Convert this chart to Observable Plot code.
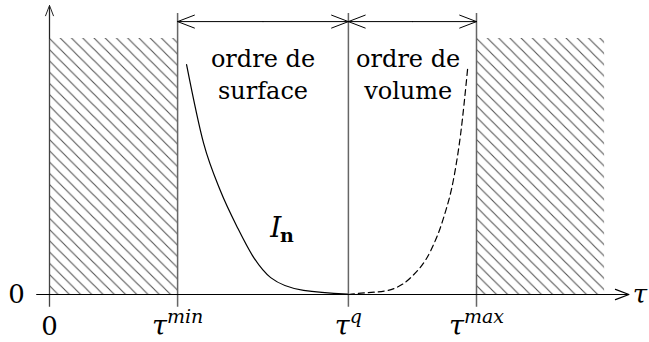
<!DOCTYPE html>
<html>
<head>
<meta charset="utf-8">
<script src="https://cdn.jsdelivr.net/npm/d3@7"></script>
<script src="https://cdn.jsdelivr.net/npm/@observablehq/plot@0.6"></script>
<style>
  html, body { margin: 0; padding: 0; background: white; }
  svg { display: block; }
</style>
</head>
<body>
<div id="chart"></div>
<script>
// ---- data ----
const tickValues = [0, 3, 7, 10];
const tickLabels = ["0", "τ^min", "τ^q", "τ^max"];
const hatchStart = [0, 10];
const hatchEnd = [3, 13];
const regionLabels = ["ordre de\nsurface", "ordre de\nvolume"];
const regionCenters = [5, 8.4];
const surfaceX = [3.21, 3.61, 4.0, 4.4, 4.78, 5.18, 5.95, 6.98];
const surfaceY = [0.898, 0.59, 0.406, 0.262, 0.145, 0.066, 0.016, 0.002];
const volumeX = [7.0, 7.22, 7.92, 8.46, 8.93, 9.23, 9.47, 9.63, 9.8];
const volumeY = [0, 0.004, 0.016, 0.066, 0.172, 0.30, 0.457, 0.629, 0.895];

// ---- derived tables ----
const surface = surfaceX.map((x, i) => ({x, y: surfaceY[i]}));
const volume = volumeX.map((x, i) => ({x, y: volumeY[i]}));
const hatch = hatchStart.map((x1, i) => ({x1, x2: hatchEnd[i]}));
const regions = regionLabels.map((t, i) => ({x: regionCenters[i], t}));
const ticks = tickValues.map((v, i) => {
  const [base, sup] = tickLabels[i].split("^");
  return {v, base, sup: sup || ""};
});

const serif = "DejaVu Serif";
const baseSize = 27, supSize = 19;
const ctx = document.createElement("canvas").getContext("2d");
function tw(s, size, style) { ctx.font = `${style} ${size}px "${serif}"`; return ctx.measureText(s).width; }

const lineTop = 1.098, arrowY = 1.066, yAxisTop = 1.129, tickBottom = -0.05;

const tickMarks = ticks.flatMap(d => {
  const bw = tw(d.base, baseSize, d.sup ? "italic" : "normal");
  const sw = d.sup ? tw(d.sup, supSize, "italic") : 0;
  const marks = [Plot.text([d], {x: "v", y: 0, text: "base", dx: -sw / 2, dy: 32,
    fontFamily: serif, fontSize: d.sup ? baseSize : 26, fontStyle: d.sup ? "italic" : "normal", textAnchor: "middle", fill: "black"})];
  if (d.sup) marks.push(Plot.text([d], {x: "v", y: 0, text: "sup", dx: bw / 2 - sw / 2, dy: 22,
    fontFamily: serif, fontSize: supSize, fontStyle: "italic", textAnchor: "start", fill: "black"}));
  return marks;
});

const chart = Plot.plot({
  width: 649, height: 342, margin: 0,
  x: {domain: [0, 10], range: [49, 476], axis: null},
  y: {domain: [0, 1], range: [294, 38], axis: null},
  style: {background: "white", overflow: "visible", fontFamily: serif},
  marks: [
    Plot.rect(hatch, {x1: "x1", x2: "x2", y1: 0, y2: 1, fill: "url(#hatch)"}),
    Plot.ruleX(tickValues.slice(1), {y1: tickBottom, y2: lineTop, stroke: "#666", strokeWidth: 1.5}),
    Plot.ruleX([0], {y1: tickBottom, y2: yAxisTop - 0.02, stroke: "#444", strokeWidth: 1.3}),
    Plot.arrow([0], {x1: 0, x2: 0, y1: 1.0, y2: yAxisTop, stroke: "#222", strokeWidth: 1, headLength: 20, headAngle: 42}),
    Plot.arrow([0], {x1: -0.3, x2: 13.57, y1: 0, y2: 0, stroke: "black", strokeWidth: 1.2, headLength: 18, headAngle: 42}),
    Plot.arrow([[5, 3], [5, 7], [8.5, 7], [8.5, 10]], {x1: d => d[0], x2: d => d[1], y1: arrowY, y2: arrowY,
      stroke: "black", strokeWidth: 1, headLength: 27, headAngle: 42}),
    Plot.line(surface, {x: "x", y: "y", curve: "monotone-x", stroke: "black", strokeWidth: 1.2}),
    Plot.line(volume, {x: "x", y: "y", curve: "monotone-x", stroke: "black", strokeWidth: 1.2, strokeDasharray: "6,4"}),
    Plot.text(regions, {x: "x", y: 0.865, text: "t", fontFamily: serif, fontSize: 24, lineHeight: 1.3, fill: "black"}),
    Plot.text(["I"], {x: 5.3, y: 0.262, text: d => d, dy: 1, fontFamily: serif, fontStyle: "italic", fontSize: 28, fill: "black"}),
    Plot.text(["n"], {x: 5.56, y: 0.262, text: d => d, dy: 8, fontFamily: serif, fontWeight: "bold", fontSize: 19, fill: "black"}),
    Plot.text(["0"], {x: 0, y: 0, text: d => d, dx: -33, fontFamily: serif, fontSize: 26, fill: "black"}),
    Plot.text(["τ"], {x: 13.57, y: 0, text: d => d, dx: 11, dy: 0, fontFamily: serif, fontStyle: "italic", fontSize: 26, fill: "black"}),
    ...tickMarks
  ]
});

const s = 11.24;
d3.select(chart).insert("defs", ":first-child").html(
  `<pattern id="hatch" patternUnits="userSpaceOnUse" x="49" y="38" width="${s}" height="${s}">
     <path d="M-2,-2 L${s + 2},${s + 2} M${s - 2},-2 L${s + 2},2 M-2,${s - 2} L2,${s + 2}" stroke="#555" stroke-width="1.1" fill="none"/>
   </pattern>`);
document.getElementById("chart").appendChild(chart);
</script>
</body>
</html>
